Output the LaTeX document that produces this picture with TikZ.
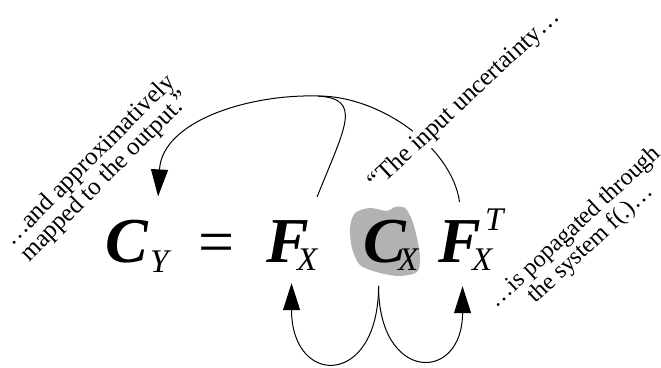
\documentclass[tikz,border=0pt]{standalone}
\usepackage{fontspec}
\setmainfont{Liberation Serif}
\usetikzlibrary{arrows.meta}

\begin{document}
\begin{tikzpicture}[
    x=1pt, y=1pt,
    term/.style={inner sep=0pt, anchor=base west, font=\fontsize{64}{70}\selectfont\bfseries\itshape},
    idx/.style={inner sep=0pt, anchor=base west, font=\fontsize{33}{36}\selectfont\itshape},
    note/.style={inner sep=1pt, font=\fontsize{25}{23}\selectfont, align=center},
    link/.style={line width=1pt, -{Triangle[length=27pt,width=17pt]}},
    plain/.style={line width=1pt}
]
    \useasboundingbox (0,0) rectangle (661,367);

    % Blob behind the input covariance
    \fill[black!30] plot[smooth cycle] coordinates {(355,154) (370,159) (387,156) (395,160) (405,159) (412,147) (417,129) (420,109) (417,95) (400,91) (380,94) (360,102) (352,119) (350,139)};

    % Equation
    \node[term] (cy) at (105,105) {C};
    \node[idx] (cyidx) at (150,95) {Y};
    \node[inner sep=0pt, anchor=base west, font=\fontsize{64}{70}\selectfont] (eq) at (198,103) {=};
    \node[term] (fx) at (266,105) {F};
    \node[idx] (fxidx) at (297,96) {X};
    \node[term] (cx) at (363,105) {C};
    \node[idx] (cxidx) at (398,96) {X};
    \node[term] (fxt) at (438,105) {F};
    \node[idx] (fxtidx) at (472,96) {X};
    \node[idx] (fxtexp) at (485,136) {T};

    % Arrows (top)
    \coordinate (apex) at (318,271);
    \draw[plain] ([yshift=18pt]fxt.north) .. controls +(-8,55) and +(62,0) .. (apex);
    \draw[link] (apex) .. controls +(-70,2) and +(4,75) .. ([xshift=10pt,yshift=23pt]cy.north east);
    \draw[plain] ([xshift=8pt,yshift=23pt]fx.north east) .. controls +(28,70) and +(45,-3) .. (apex);

    % Arrows (bottom)
    \draw[link] ([xshift=-6pt,yshift=-23pt]cx.south) .. controls +(0,-102) and +(0,-104) .. ([xshift=4pt,yshift=-21pt]fx.south);
    \draw[link] ([xshift=-6pt,yshift=-23pt]cx.south) .. controls +(0,-97) and +(0,-97) .. ([xshift=3pt,yshift=-24pt]fxt.south);

    % Notes
    \node[note, fill=white, anchor=base west, rotate=43] (input) at (376,176) {“The input uncertainty…};
    \node[note, rotate=45] (mapped) at (98,198) {…and approximatively\\mapped to the output.”};
    \node[note, rotate=43, font=\fontsize{24}{23}\selectfont] (system) at (583,131) {…is popagated through\\the system f(.)…};
\end{tikzpicture}
\end{document}
